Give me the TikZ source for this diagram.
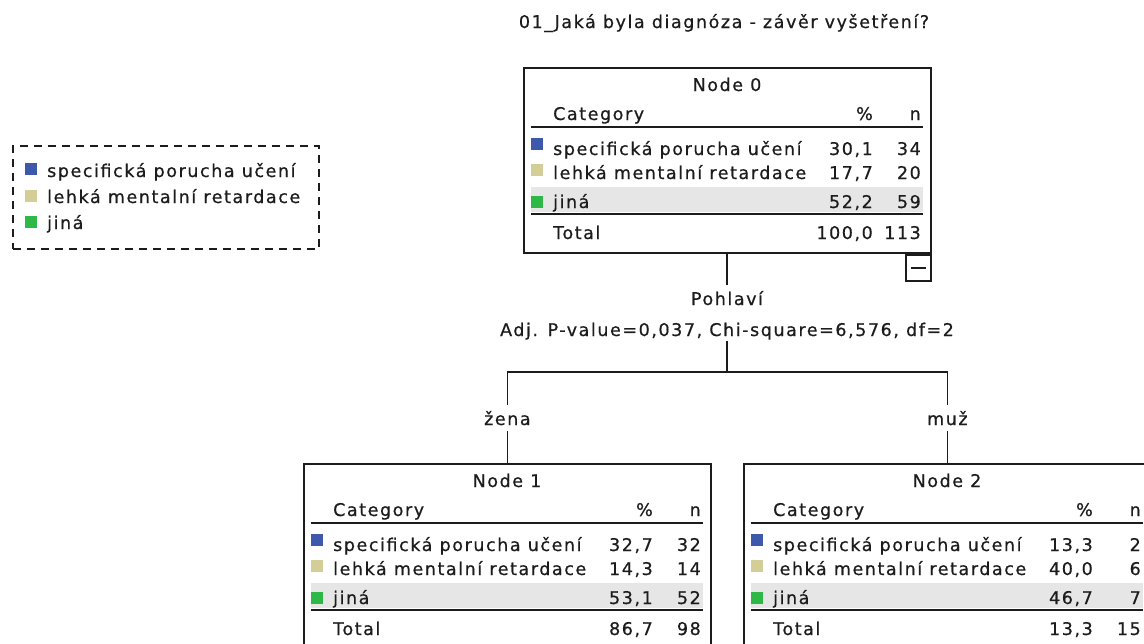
\documentclass[tikz,border=0pt]{standalone}
\usepackage{fontspec}
\newfontfamily\pixfont[LetterSpace=9, FakeBold=0.6]{DejaVu Sans}

\definecolor{ink}{HTML}{1C1C1C}
\definecolor{catblue}{HTML}{3E58AC}
\definecolor{catbeige}{HTML}{D3CE97}
\definecolor{catgreen}{HTML}{2EB848}
\definecolor{bandgray}{HTML}{E6E6E6}

\tikzset{
  txt/.style={font=\pixfont\fontsize{17.5}{20}\selectfont, text=ink, inner sep=0pt},
  lbl/.style={txt, inner ysep=6pt},
  frame/.style={draw=ink, line width=1.8pt, inner sep=0pt},
  rule/.style={draw=ink, line width=1.8pt},
  link/.style={draw=ink, line width=1.8pt},
  band/.style={fill=bandgray},
}

% One table node of the tree: frame, header, coloured rows and total
\newcommand\cattable[2]{%
  \node[frame, anchor=north west, minimum width=407pt, minimum height=185pt] (#1) at (0,0) {};
  \fill[band] (8,120) rectangle (400,145);
  \draw[rule] (8,60) -- (400,60);
  \draw[rule] (8,147) -- (400,147);
  \node[txt, anchor=base] (#1-title) at (204,24) {#2};
  \node[txt, anchor=base west] (#1-cat) at (30,53) {Category};
  \node[txt, anchor=base east] (#1-pct) at (350,53) {\%};
  \node[txt, anchor=base east] (#1-cnt) at (398,53) {n};
  \fill[catblue] (8,71) rectangle (20,83);
  \fill[catbeige] (8,97) rectangle (20,109);
  \fill[catgreen] (8,129) rectangle (20,141);
  \node[txt, anchor=base west] (#1-r1) at (30,88) {specifická porucha učení};
  \node[txt, anchor=base west] (#1-r2) at (30,112) {lehká mentalní retardace};
  \node[txt, anchor=base west] (#1-r3) at (30,141) {jiná};
  \node[txt, anchor=base west] (#1-tot) at (30,172) {Total};
}
\newcommand\catvalues[9]{%
  \node[txt, anchor=base east] (#1-p1) at (350,88) {#2};
  \node[txt, anchor=base east] (#1-n1) at (398,88) {#3};
  \node[txt, anchor=base east] (#1-p2) at (350,112) {#4};
  \node[txt, anchor=base east] (#1-n2) at (398,112) {#5};
  \node[txt, anchor=base east] (#1-p3) at (350,141) {#6};
  \node[txt, anchor=base east] (#1-n3) at (398,141) {#7};
  \node[txt, anchor=base east] (#1-pt) at (350,172) {#8};
  \node[txt, anchor=base east] (#1-nt) at (398,172) {#9};
}

\begin{document}
\begin{tikzpicture}[x=1pt, y=-1pt]
  \useasboundingbox (0,0) rectangle (1144,643);
  \clip (0,0) rectangle (1144,643);
  \fill[white] (0,0) rectangle (1144,643);

  % dependent variable
  \node[txt, anchor=base] (head) at (724,28) {01\_Jaká byla diagnóza - závěr vyšetření?};

  % legend
  \node[draw=ink, line width=1.6pt, dash pattern=on 8pt off 6pt, inner sep=0pt,
        minimum width=306pt, minimum height=103pt, anchor=north west] (legend) at (12,145) {};
  \fill[catblue] (25,163) rectangle (37,175);
  \fill[catbeige] (25,190) rectangle (37,202);
  \fill[catgreen] (25,216) rectangle (37,228);
  \node[txt, anchor=base west] (leg1) at (47,177) {specifická porucha učení};
  \node[txt, anchor=base west] (leg2) at (47,203) {lehká mentalní retardace};
  \node[txt, anchor=base west] (leg3) at (47,229) {jiná};

  % root node
  \begin{scope}[shift={(523,67)}]
    \cattable{n0}{Node 0}
    \catvalues{n0}{30,1}{34}{17,7}{20}{52,2}{59}{100,0}{113}
  \end{scope}
  \node[frame, anchor=north east, minimum width=25pt, minimum height=26pt] (n0tog) at (n0.south east) {};
  \draw[rule] ([xshift=6pt]n0tog.west) -- ([xshift=-6pt]n0tog.east);

  % child nodes
  \begin{scope}[shift={(303,463)}]
    \cattable{n1}{Node 1}
    \catvalues{n1}{32,7}{32}{14,3}{14}{53,1}{52}{86,7}{98}
  \end{scope}
  \begin{scope}[shift={(743,463)}]
    \cattable{n2}{Node 2}
    \catvalues{n2}{13,3}{2}{40,0}{6}{46,7}{7}{13,3}{15}
  \end{scope}

  % split variable and branch labels
  \node[lbl, anchor=base] (pohl) at (727,305) {Pohlaví};
  \node[txt, inner ysep=1pt, anchor=base] (adj) at (727,336) {Adj. P-value=0,037, Chi-square=6,576, df=2};
  \coordinate (split) at (727,372);
  \node[lbl, anchor=base] (zena) at (n1.north |- 0,425) {žena};
  \node[lbl, anchor=base] (muz) at (n2.north |- 0,425) {muž};

  % connectors
  \draw[link] (n0.south -| pohl) -- (pohl.north);
  \draw[link] (adj.south) -- (split);
  \draw[link] (zena.north) |- (split) -| (muz.north);
  \draw[link] (zena.south) -- (n1.north);
  \draw[link] (muz.south) -- (n2.north);
\end{tikzpicture}
\end{document}
